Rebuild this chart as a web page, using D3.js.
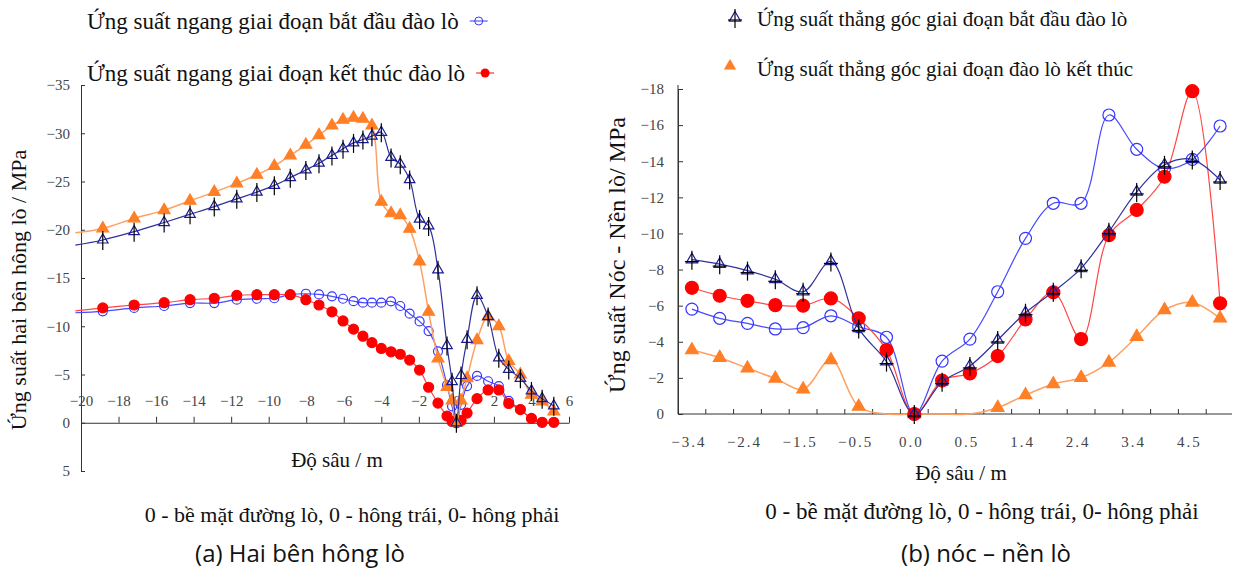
<!DOCTYPE html>
<html>
<head>
<meta charset="utf-8">
<script src="https://cdn.jsdelivr.net/npm/d3@7"></script>
<style>
  body { margin: 0; background: #fff; }
  svg { display: block; }
  text { font-family: "Liberation Serif", "DejaVu Serif", serif; fill: #111; }
</style>
</head>
<body>
<svg width="1234" height="575"></svg>
<script>
// ---------- (a) hai bên hông lò ----------
var depthL = [-20.3, -18.84, -17.17, -15.57, -14.19, -12.9, -11.7, -10.63, -9.7, -8.85, -8.02, -7.32,
  -6.63, -6.04, -5.48, -4.98, -4.5, -4.0, -3.48, -2.99, -2.49, -1.96, -1.48, -0.98, -0.5, -0.23, 0,
  0.25, 0.57, 1.1, 1.69, 2.26, 2.79, 3.41, 4.0, 4.57, 5.19];
var ngangBatDau = [-11.4, -11.55, -11.9, -12.1, -12.4, -12.4, -12.75, -12.85, -12.9, -13.27, -13.37, -13.3,
  -13.1, -12.85, -12.6, -12.44, -12.44, -12.44, -12.58, -12.1, -11.3, -10.5, -9.5, -7.4, -3.9, -1.7, 0,
  -1.86, -3.8, -4.85, -4.3, -3.8, -2.27, -1.4, -0.4, 0, 0];
var ngangKetThuc = [-11.6, -11.9, -12.2, -12.44, -12.75, -12.9, -13.2, -13.27, -13.27, -13.27, -12.75, -12.2,
  -11.5, -10.55, -9.7, -8.97, -8.3, -7.7, -7.35, -7.1, -6.5, -5.46, -3.68, -2.03, -0.7, -0.13, 0,
  -0.24, -1.0, -2.5, -3.4, -3.4, -2.0, -1.37, -0.45, -0.05, -0.05];
var dungBatDauL = [-18.4, -18.94, -19.8, -20.75, -21.6, -22.4, -23.2, -23.9, -24.6, -25.4, -26.2, -26.9,
  -27.7, -28.4, -29.0, -29.35, -29.7, -30.1, -27.5, -26.8, -25.2, -21.1, -20.4, -15.85, -8.0, -4.26, 0,
  -4.9, -8.65, -13.2, -11.0, -6.73, -5.53, -4.6, -3.3, -2.5, -1.75];
var dungKetThucL = [-19.7, -20.14, -21.17, -22.03, -23.0, -23.9, -24.8, -25.7, -26.6, -27.7, -28.8, -29.8,
  -30.8, -31.4, -31.6, -31.5, -30.8, -22.9, -21.7, -21.5, -20.1, -16.7, -11.5, -6.67, -3.7, -2.3, 0,
  -2.3, -4.6, -8.56, -11.0, -10.0, -6.4, -5.0, -2.9, -2.2, -1.16];
var yTicksL = [-35, -30, -25, -20, -15, -10, -5, 0, 5];
var xTicksL = [-20, -18, -16, -14, -12, -10, -8, -6, -4, -2, 0, 2, 4, 6];

// ---------- (b) nóc – nền lò ----------
var catsR = ["-3.4", "-2.9", "-2.4", "-1.9", "-1.5", "-1.0", "-0.5", "-0.2", "0.0", "0.2",
  "0.5", "0.9", "1.4", "1.9", "2.4", "2.9", "3.4", "3.9", "4.5", "5.0"];
var catLabelsR = ["-3.4", "-2.4", "-1.5", "-0.5", "0.0", "0.5", "1.4", "2.4", "3.4", "4.5"];
var dungBatDauR = [-8.55, -8.3, -7.94, -7.46, -6.77, -8.45, -4.74, -2.9, 0, -1.79,
  -2.66, -4.1, -5.61, -6.77, -8.07, -10.1, -12.3, -13.8, -14.1, -12.96];
var dungKetThucR = [-3.54, -3.12, -2.53, -1.97, -1.37, -2.99, -0.41, 0, 0, 0,
  0, -0.35, -1.05, -1.66, -2.01, -2.86, -4.28, -5.76, -6.18, -5.3];
var ngangBatDauR = [-5.81, -5.3, -5.02, -4.71, -4.78, -5.44, -4.83, -4.25, 0, -2.93,
  -4.15, -6.77, -9.73, -11.67, -11.67, -16.56, -14.66, -13.6, -14.1, -15.95];
var ngangKetThucR = [-6.99, -6.55, -6.27, -6.03, -6.0, -6.4, -5.3, -3.54, 0, -1.85,
  -2.25, -3.21, -5.24, -6.74, -4.15, -9.9, -11.3, -13.14, -17.88, -6.13];
var yTicksR = [-18, -16, -14, -12, -10, -8, -6, -4, -2, 0];

var NAVY = "#1c1c96", BLUE = "#3535ff", RED = "#ff0000", ORANGE = "#ff7f27";
var fmt = d => d < 0 ? "\u2212" + (-d) : String(d);
var SANS = "'Open Sans', 'Noto Sans', sans-serif";

var svg = d3.select("svg");

// vẽ một chuỗi: đường trơn + marker
function drawSeries(g, pts, o) {
  g.append("path")
    .datum(pts)
    .attr("fill", "none")
    .attr("stroke", o.line)
    .attr("stroke-width", o.lw || 1.2)
    .attr("d", d3.line().x(d => d[0]).y(d => d[1]).curve(d3.curveCatmullRom.alpha(0.5)));
  var mk = g.append("g");
  pts.filter(d => d[2]).forEach(d => drawMarker(mk, d[0], d[1], o));
}

function drawMarker(g, x, y, o) {
  if (o.kind == "circle") {
    g.append("circle").attr("cx", x).attr("cy", y).attr("r", o.r)
      .attr("fill", o.fill || "none").attr("stroke", o.stroke).attr("stroke-width", 1.2);
  } else {
    g.append("path").attr("transform", "translate(" + x + "," + y + ")")
      .attr("d", d3.symbol(d3.symbolTriangle, o.size)())
      .attr("fill", o.fill || "none").attr("stroke", o.stroke).attr("stroke-width", 1.2);
    if (o.cross) {
      g.append("line").attr("x1", x).attr("x2", x).attr("y1", y - 9).attr("y2", y + 10)
        .attr("stroke", "#000").attr("stroke-width", 1.2);
      if (o.cross == 2)
        g.append("line").attr("x1", x - 7).attr("x2", x + 7).attr("y1", y + 2).attr("y2", y + 2)
          .attr("stroke", "#000").attr("stroke-width", 1.2);
    }
  }
}

function styleAxis(a) {
  a.selectAll("text").style("font-size", "15px").style("fill", "#444").style("font-family", "Liberation Serif");
  a.selectAll("line,path").attr("stroke", "#333");
}

// ================= LEFT =================
var xL = d3.scaleLinear().domain([-20, 6]).range([81, 569]);
var yL = d3.scaleLinear().domain([-35, 5]).range([85, 471]);
var gL = svg.append("g");

gL.append("g").attr("transform", "translate(81,0)")
  .call(d3.axisLeft(yL).tickValues(yTicksL).tickSize(-4).tickSizeOuter(0).tickPadding(11).tickFormat(fmt))
  .call(styleAxis);

gL.append("g").attr("transform", "translate(0," + yL(0) + ")")
  .call(d3.axisTop(xL).tickValues(xTicksL).tickSize(6).tickSizeOuter(0).tickPadding(11).tickFormat(fmt))
  .call(styleAxis);

function ptsL(vals) { return depthL.map((d, i) => [xL(d), yL(vals[i]), d > -20]); }
drawSeries(gL, ptsL(ngangBatDau), { line: "#4848ff", kind: "circle", r: 4.5, stroke: BLUE });
drawSeries(gL, ptsL(ngangKetThuc), { line: "#ff4646", kind: "circle", r: 5, stroke: RED, fill: RED });
drawSeries(gL, ptsL(dungKetThucL), { line: "#ffa060", lw: 1.5, kind: "tri", size: 60, stroke: ORANGE, fill: ORANGE });
drawSeries(gL, ptsL(dungBatDauL), { line: "#30309a", kind: "tri", size: 48, stroke: NAVY, cross: 1 });

// legend trái
var lg1 = gL.append("text").attr("x", 87).attr("y", 29).style("font-size", "23px").text("Ứng suất ngang giai đoạn bắt đầu đào lò");
var e1 = 87 + lg1.node().getComputedTextLength() + 20;
gL.append("line").attr("x1", e1 - 9).attr("x2", e1 + 9).attr("y1", 21).attr("y2", 21).attr("stroke", BLUE);
gL.append("circle").attr("cx", e1).attr("cy", 21).attr("r", 4).attr("fill", "none").attr("stroke", BLUE);
var lg2 = gL.append("text").attr("x", 87).attr("y", 81).style("font-size", "23px").text("Ứng suất ngang giai đoạn kết thúc đào lò");
var e2 = 87 + lg2.node().getComputedTextLength() + 20;
gL.append("line").attr("x1", e2 - 9).attr("x2", e2 + 9).attr("y1", 73).attr("y2", 73).attr("stroke", RED);
gL.append("circle").attr("cx", e2).attr("cy", 73).attr("r", 4.5).attr("fill", RED);

gL.append("text").attr("transform", "translate(26,290) rotate(-90)").attr("text-anchor", "middle")
  .style("font-size", "22px").text("Ứng suất hai bên hông lò / MPa");
gL.append("text").attr("x", 337).attr("y", 467).attr("text-anchor", "middle").style("font-size", "21px").text("Độ sâu / m");
gL.append("text").attr("x", 352).attr("y", 522).attr("text-anchor", "middle").style("font-size", "22px")
  .text("0 - bề mặt đường lò, 0 - hông trái, 0- hông phải");
gL.append("text").attr("x", 300).attr("y", 562).attr("text-anchor", "middle")
  .style("font-family", SANS).style("font-size", "24px").text("(a) Hai bên hông lò");

// ================= RIGHT =================
var xR = d3.scaleBand().domain(catsR).range([678, 1234]);
var yR = d3.scaleLinear().domain([-18, 0]).range([89, 414]);
var bw = xR.bandwidth();
var gR = svg.append("g");

gR.append("line").attr("x1", 678).attr("x2", 678).attr("y1", 85).attr("y2", yR(0)).attr("stroke", "#333");
gR.append("g").attr("transform", "translate(678,0)")
  .call(d3.axisLeft(yR).tickValues(yTicksR).tickSize(-5).tickSizeOuter(0).tickPadding(14).tickFormat(fmt))
  .call(styleAxis);

gR.append("line").attr("x1", 678).attr("x2", 1232).attr("y1", yR(0)).attr("y2", yR(0)).attr("stroke", "#333");
gR.selectAll(".xt").data(catsR.slice(1)).join("line")
  .attr("x1", d => xR(d)).attr("x2", d => xR(d)).attr("y1", yR(0)).attr("y2", yR(0) - 5).attr("stroke", "#333");
gR.selectAll(".xl").data(catLabelsR).join("text")
  .attr("x", d => xR(d) + bw / 2 - 3).attr("y", 447).attr("text-anchor", "middle")
  .style("font-size", "15px").style("fill", "#444").style("letter-spacing", "2px")
  .text(d => d.replace("-", "\u2212"));

function ptsR(vals, skipZero) {
  return catsR.map((c, i) => [xR(c) + bw / 2, yR(vals[i]), !(skipZero && vals[i] === 0 && c !== "0.0")]);
}
drawSeries(gR, ptsR(dungKetThucR, true), { line: "#ffa060", lw: 1.5, kind: "tri", size: 70, stroke: ORANGE, fill: ORANGE });
drawSeries(gR, ptsR(ngangBatDauR), { line: "#4848ff", kind: "circle", r: 6, stroke: BLUE });
drawSeries(gR, ptsR(ngangKetThucR), { line: "#ff4646", kind: "circle", r: 6.5, stroke: RED, fill: RED });
drawSeries(gR, ptsR(dungBatDauR), { line: "#30309a", kind: "tri", size: 55, stroke: NAVY, cross: 2 });

// legend phải
drawMarker(gR, 735, 18, { kind: "tri", size: 55, stroke: NAVY, cross: 2 });
gR.append("text").attr("x", 757).attr("y", 26).style("font-size", "21px").text("Ứng suất thẳng góc giai đoạn bắt đầu đào lò");
drawMarker(gR, 730, 66, { kind: "tri", size: 45, stroke: ORANGE, fill: ORANGE });
gR.append("text").attr("x", 757).attr("y", 76).style("font-size", "21px").text("Ứng suất thẳng góc giai đoạn đào lò kết thúc");

gR.append("text").attr("transform", "translate(625,255) rotate(-90)").attr("text-anchor", "middle")
  .style("font-size", "24px").text("Ứng suất Nóc - Nền lò/ MPa");
gR.append("text").attr("x", 961).attr("y", 480).attr("text-anchor", "middle").style("font-size", "21px").text("Độ sâu / m");
gR.append("text").attr("x", 982).attr("y", 519).attr("text-anchor", "middle").style("font-size", "23px")
  .text("0 - bề mặt đường lò, 0 - hông trái, 0- hông phải");
gR.append("text").attr("x", 986).attr("y", 562).attr("text-anchor", "middle")
  .style("font-family", SANS).style("font-size", "24px").text("(b) nóc – nền lò");
</script>
</body>
</html>
